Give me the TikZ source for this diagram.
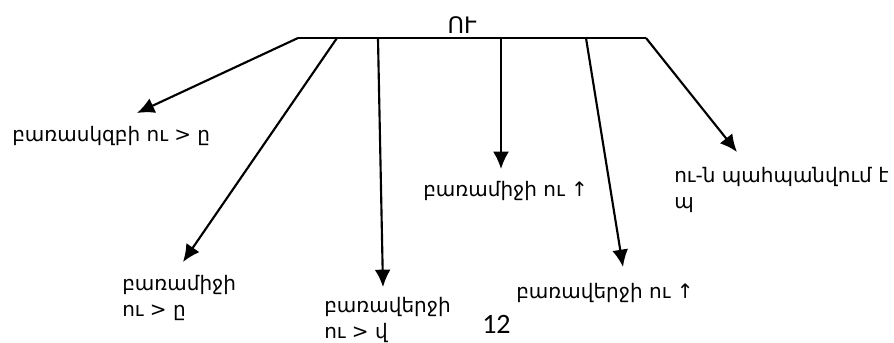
\documentclass[tikz,border=0pt]{standalone}
\usepackage{fontspec}
\setmainfont{DejaVu Sans}
\newfontfamily\numfont{Carlito}
\usetikzlibrary{arrows.meta,positioning}

\begin{document}
\begin{tikzpicture}[x=0.75pt,y=-0.75pt,
    arr/.style={line width=1.6pt,-{Latex[length=13pt,width=12pt]}},
    lbl/.style={font=\fontsize{15}{19.5}\selectfont, inner sep=0pt, align=left, anchor=base west}]
        \useasboundingbox (0,0) rectangle (894,343);
        \coordinate (B0) at (298,38);
        \coordinate (B1) at (646,38);
        \draw[line width=1.6pt] (B0) -- (B1);
        \node[inner sep=0pt, anchor=base, font=\fontsize{17}{20}\selectfont] (root) at (462,33) {ՈՒ};
        % start points on the bar
        \coordinate (s1) at (B0);
        \coordinate (s2) at (337,38);
        \coordinate (s3) at (378,39);
        \coordinate (s4) at (501,38);
        \coordinate (s5) at (586,38);
        \coordinate (s6) at (B1);
        % arrow tips
        \coordinate (t1) at (137,113);
        \coordinate (t2) at (183,262);
        \coordinate (t3) at (383,287);
        \coordinate (t4) at (501,169);
        \coordinate (t5) at (623,267);
        \coordinate (t6) at (737,152);
        \foreach \i in {1,...,6}
            \draw[arr] (s\i) -- (t\i);
        % labels (multi-line ones sit on their last line)
        \node[lbl] (l1) at (12,141) {բառասկզբի ու > ը};
        \node[lbl] (l2) at (122,316) {բառամիջի\\ու > ը};
        \node[lbl] (l3) at (324,338) {բառավերջի\\ու > վ};
        \node[lbl] (l4) at (423,196) {բառամիջի ու ↑};
        \node[lbl] (l5) at (516,298) {բառավերջի ու ↑};
        \node[lbl] (l6) at (674,208) {ու-ն պահպանվում է\\պ};
        \node[inner sep=0pt, anchor=base west, font=\numfont\fontsize{21}{24}\selectfont] (pg) at (482,333) {12};
    \end{tikzpicture}
\end{document}
